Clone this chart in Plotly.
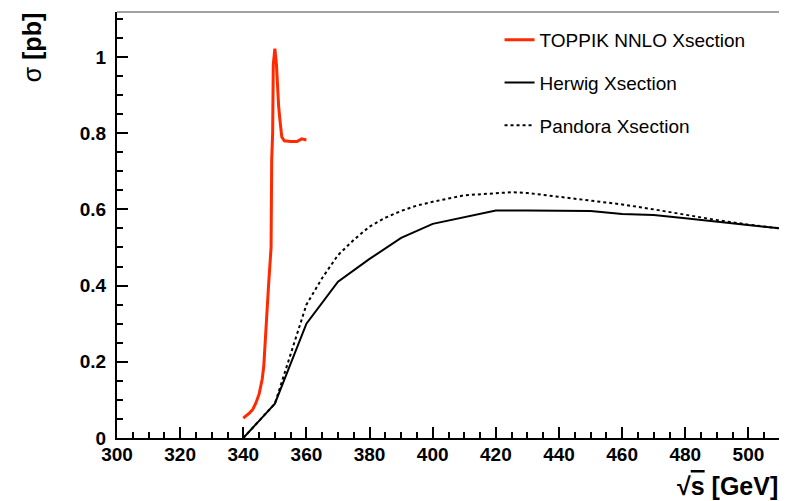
import plotly.graph_objects as go

# TOPPIK NNLO cross section (red)
toppik_x = [340.0, 341.0, 342.0, 343.0, 344.0, 345.0, 346.0, 346.5, 347.0, 347.5, 348.0,
            348.5, 348.8, 349.0, 349.3, 349.5, 350.0, 350.5, 350.9, 351.2, 351.6, 352.2,
            353.0, 355.0, 357.0, 358.5, 360.0]
toppik_y = [0.052, 0.058, 0.066, 0.075, 0.092, 0.115, 0.155, 0.19, 0.25, 0.33, 0.40,
            0.46, 0.50, 0.73, 0.80, 0.98, 1.022, 0.98, 0.90, 0.87, 0.835, 0.79,
            0.78, 0.778, 0.778, 0.785, 0.782]

# Herwig cross section (solid black)
herwig_x = [340, 350, 360, 370, 380, 390, 400, 410, 420, 430, 440, 450, 460, 470, 480, 490, 500, 510]
herwig_y = [0.0, 0.09, 0.30, 0.41, 0.47, 0.525, 0.562, 0.58, 0.597, 0.597, 0.597, 0.596,
            0.588, 0.585, 0.577, 0.568, 0.56, 0.55]

# Pandora cross section (dotted black)
pandora_x = [340, 350, 355, 360, 365, 370, 375, 380, 385, 390, 395, 400, 410, 420, 425, 430,
             440, 450, 460, 470, 480, 490, 500, 510]
pandora_y = [0.0, 0.09, 0.22, 0.35, 0.42, 0.48, 0.52, 0.555, 0.578, 0.596, 0.61, 0.62, 0.637,
             0.642, 0.645, 0.643, 0.633, 0.622, 0.613, 0.60, 0.585, 0.572, 0.56, 0.55]

x_ticks = [300, 320, 340, 360, 380, 400, 420, 440, 460, 480, 500]
y_ticks = [0, 0.2, 0.4, 0.6, 0.8, 1]
y_tick_labels = ["0", "0.2", "0.4", "0.6", "0.8", "1"]

FONT = "Liberation Sans, Arial, sans-serif"

fig = go.Figure()
fig.add_trace(go.Scatter(x=toppik_x, y=toppik_y, mode="lines", name="TOPPIK NNLO Xsection",
                         line=dict(color="#ff2a00", width=3), legendgroup="a"))
fig.add_trace(go.Scatter(x=herwig_x, y=herwig_y, mode="lines", name="Herwig Xsection",
                         line=dict(color="black", width=2), legendgroup="b"))
fig.add_trace(go.Scatter(x=pandora_x, y=pandora_y, mode="lines", name="Pandora Xsection",
                         line=dict(color="black", width=2, dash="3px,3px"), legendgroup="c"))

# page has an 8px body margin, so the figure is sized to fit the 787x501 window
fig.update_layout(
    width=779, height=493,
    margin=dict(l=109, r=7, t=4, b=63),
    paper_bgcolor="white", plot_bgcolor="white",
    font=dict(family=FONT, color="black"),
    showlegend=True,
    legend=dict(x=0.577, y=0.979, xanchor="left", yanchor="top",
                bgcolor="rgba(0,0,0,0)", borderwidth=0,
                font=dict(family=FONT, size=19, color="black"),
                tracegroupgap=15),
    xaxis=dict(range=[300, 510], tickvals=x_ticks, ticktext=[str(v) for v in x_ticks],
               ticks="inside", ticklen=11, tickwidth=1.5, tickcolor="black",
               minor=dict(dtick=5, tick0=300, ticks="inside", ticklen=6, tickwidth=1.5, tickcolor="black"),
               showline=True, linecolor="black", linewidth=2, showgrid=False, zeroline=False,
               tickfont=dict(family=FONT, size=19, weight="bold", color="black"),
               ticklabelstandoff=-2),
    yaxis=dict(range=[0, 1.118], tickvals=y_ticks, ticktext=y_tick_labels,
               ticks="inside", ticklen=11, tickwidth=1.5, tickcolor="black",
               minor=dict(dtick=0.05, tick0=0, ticks="inside", ticklen=6, tickwidth=1.5, tickcolor="black"),
               showline=True, linecolor="black", linewidth=2, showgrid=False, zeroline=False,
               tickfont=dict(family=FONT, size=19, weight="bold", color="black"),
               ticklabelstandoff=5),
    shapes=[
        dict(type="line", xref="paper", yref="paper", x0=0, x1=1, y0=1, y1=1,
             line=dict(color="#444444", width=1)),
        dict(type="line", xref="paper", yref="paper", x0=1, x1=1, y0=0, y1=1,
             line=dict(color="#444444", width=1)),
    ],
    annotations=[
        dict(text="√<span style='text-decoration:overline'>s</span> [GeV]", xref="paper", yref="paper",
             x=1.0, y=-0.113, xanchor="right", yanchor="middle", showarrow=False,
             font=dict(family=FONT, size=25, weight="bold", color="black")),
        dict(text="σ <b>[pb]</b>", xref="paper", yref="paper", textangle=-90,
             x=-0.129, y=1.005, xanchor="center", yanchor="top", showarrow=False,
             font=dict(family=FONT, size=25, color="black")),
    ],
)

fig.write_html("out.html")
